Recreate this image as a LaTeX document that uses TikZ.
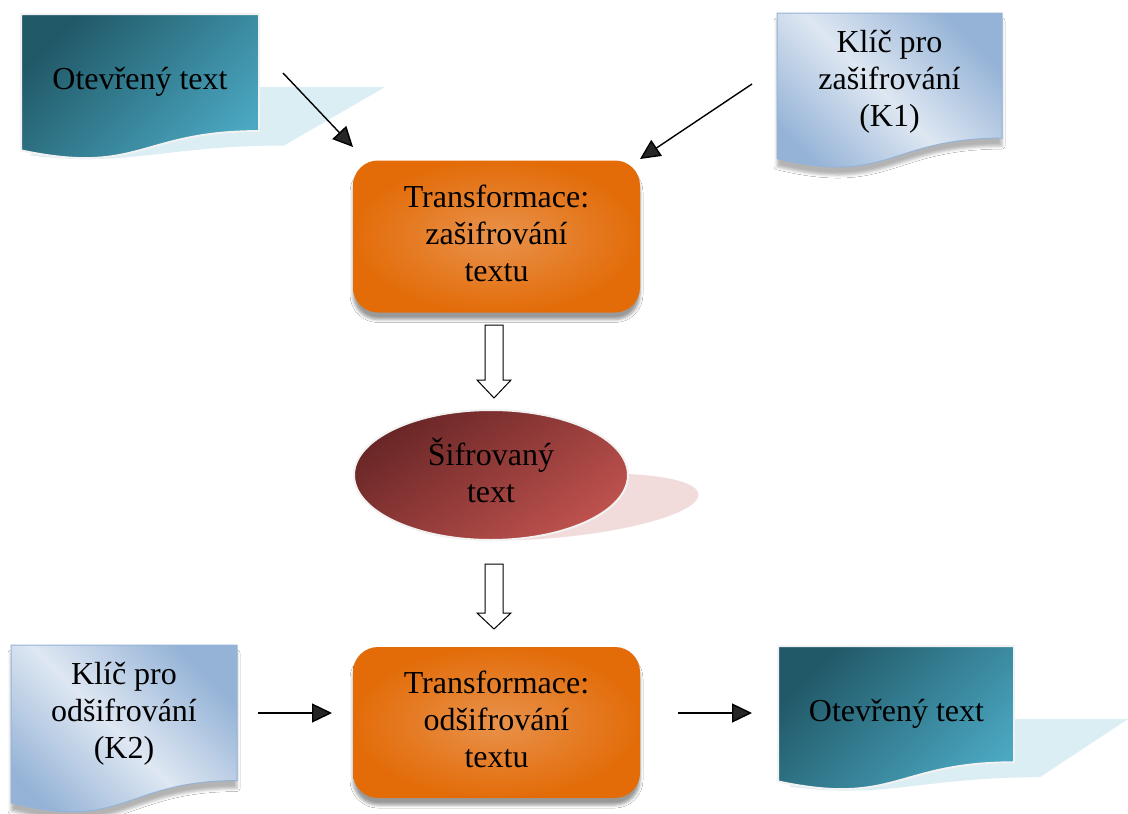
\documentclass[tikz,border=0pt]{standalone}
\usepackage{fontspec}
\setmainfont{Liberation Serif}
\usetikzlibrary{arrows.meta,shadows.blur,shapes.geometric}
\definecolor{tealdark}{RGB}{33,89,104}
\definecolor{teallight}{RGB}{75,168,194}
\definecolor{tealshadow}{RGB}{218,238,243}
\definecolor{bluedark}{RGB}{149,179,215}
\definecolor{bluelight}{RGB}{222,231,242}
\definecolor{orangedark}{RGB}{227,108,9}
\definecolor{orangelight}{RGB}{232,146,76}
\definecolor{reddark}{RGB}{105,38,38}
\definecolor{redlight}{RGB}{190,82,78}
\definecolor{pinkshadow}{RGB}{242,220,219}
\definecolor{docedge}{RGB}{242,242,242}
\newcommand{\docshape}[4]{(#1,#2) -- (#3,#2) -- (#3,{#2+0.802*#4}) .. controls ({(#1+#3)/2},{#2+0.802*#4}) and ({(#1+#3)/2},{#2+1.1075*#4}) .. (#1,{#2+0.934*#4}) -- cycle}
\tikzset{
  txt/.style={font=\fontsize{32}{37}\selectfont, align=center, inner sep=0pt, text=black},
  tealdoc/.style={draw=docedge, line width=2pt, shading=axis, top color=tealdark, bottom color=teallight, shading angle=45},
  bluedoc/.style={draw=bluedark, line width=1pt, shading=axis, top color=bluedark, bottom color=bluedark, middle color=bluelight, shading angle=-45,
    blur shadow={shadow xshift=0pt, shadow yshift=-8pt, shadow blur radius=3pt, shadow opacity=30}},
  procbox/.style={rectangle, rounded corners=25pt, minimum width=287pt, minimum height=152pt, inner sep=0pt,
    shading=radial, inner color=orangelight, outer color=orangedark,
    blur shadow={shadow xshift=0pt, shadow yshift=-7pt, shadow blur radius=3pt, shadow opacity=40}},
  cipher/.style={ellipse, minimum width=274pt, minimum height=130pt, inner sep=0pt, draw=docedge, line width=2pt,
    shading=axis, top color=reddark, bottom color=redlight, shading angle=35},
  conn/.style={line width=1.4pt, -{Triangle[length=20pt,width=19pt]}},
  hollowarrow/.style={draw=black, fill=white, line width=1pt, line join=miter}
}
\begin{document}
\begin{tikzpicture}[x=1pt,y=-1pt]
\useasboundingbox (0,0) rectangle (1128,814);
\fill[white] (0,0) rectangle (1128,814);

% --- top-left plain text document
\fill[tealshadow] (147,87) -- (385,87) -- (284.1,145.5) .. controls (165.1,145.5) and (126.7,167.9) .. (29.5,155.2) -- cycle;
\path[tealdoc] \docshape{21}{14}{259}{146};
\node[txt] (plain1) at (140,82) {Otevřený text};

% --- top-right key K1
\path[bluedoc] \docshape{777}{13}{1002}{156};
\node[txt] (key1) at (889.5,82) {Klíč pro\\zašifrování\\(K1)};

% --- encryption box
\node[procbox] (enc) at (496.5,236.5) {};
\node[txt] (enctext) at (496.5,233.5) {Transformace:\\zašifrování\\textu};

% --- cipher text
\fill[pinkshadow, rotate around={5:(552,507)}] (552,507) ellipse [x radius=147, y radius=31];
\node[cipher] (cipher) at (491,475) {};
\node[txt] (ciphertext) at (491,470) {Šifrovaný\\text};

% --- decryption box
\node[procbox, minimum height=151pt] (dec) at (496.5,722.5) {};
\node[txt] (dectext) at (496.5,719.5) {Transformace:\\odšifrování\\textu};

% --- bottom-left key K2
\path[bluedoc] \docshape{11}{645}{237}{169};
\node[txt] (key2) at (124,714) {Klíč pro\\odšifrování\\(K2)};

% --- bottom-right plain text document
\fill[tealshadow] (892,719) -- (1128,719) -- (1039.9,777.2) .. controls (921.9,777.2) and (888.4,799.3) .. (789.5,786.7) -- cycle;
\path[tealdoc] \docshape{778}{646}{1014}{145};
\node[txt] (plain2) at (896.5,714) {Otevřený text};

% --- connectors
\coordinate (a1s) at (283,73);
\coordinate (a1e) at (353,147);
\coordinate (a2s) at (752,84);
\coordinate (a2e) at (640,159);
\coordinate (a3s) at (258,713);
\coordinate (a3e) at (332,713);
\coordinate (a4s) at (678,713);
\coordinate (a4e) at (752,713);
\draw[conn] (a1s) -- (a1e);
\draw[conn] (a2s) -- (a2e);
\draw[conn] (a3s) -- (a3e);
\draw[conn] (a4s) -- (a4e);

% --- hollow block arrows
\coordinate (h1) at (494,325);
\coordinate (h2) at (494,564);
\draw[hollowarrow] (h1) ++(-9,0) -- ++(0,55) -- ++(-8,0) -- ++(17,18) -- ++(17,-18) -- ++(-8,0) -- ++(0,-55) -- cycle;
\draw[hollowarrow] (h2) ++(-9,0) -- ++(0,49) -- ++(-8,0) -- ++(17,16) -- ++(17,-16) -- ++(-8,0) -- ++(0,-49) -- cycle;
\end{tikzpicture}
\end{document}
